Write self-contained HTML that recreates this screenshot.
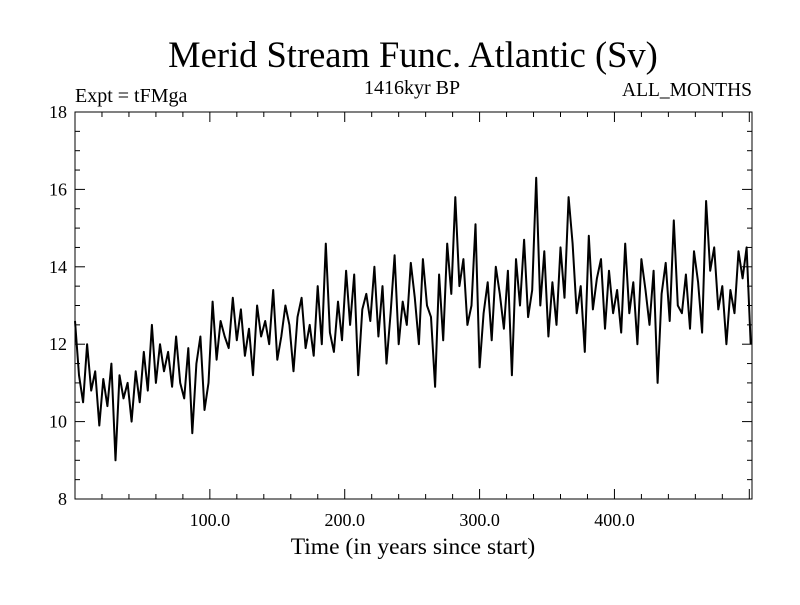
<!DOCTYPE html>
<html><head><meta charset="utf-8"><style>
body{margin:0;background:#fff}
svg text{font-family:"Liberation Serif",serif;fill:#000}
</style></head><body>
<svg id="chart" width="800" height="600" xmlns="http://www.w3.org/2000/svg">
<text x="413" y="67" font-size="36.5" text-anchor="middle">Merid Stream Func. Atlantic (Sv)</text>
<text x="75" y="102" font-size="20">Expt = tFMga</text>
<text x="412" y="94" font-size="20" text-anchor="middle">1416kyr BP</text>
<text x="752" y="96" font-size="19.5" text-anchor="end">ALL_MONTHS</text>
<text x="413" y="554" font-size="23.5" text-anchor="middle">Time (in years since start)</text>
<rect x="75" y="112" width="677" height="387" fill="none" stroke="#000" stroke-width="1"/>
<g id="ticks"></g>
<path id="series" fill="none" stroke="#000" stroke-width="2" stroke-linejoin="round"/>
</svg>
<script>
const yTickValues=[8,10,12,14,16,18];
const xTickValues=[100,200,300,400];
const xTickLabels=["100.0","200.0","300.0","400.0"];
const startYear=0, yearStep=3;
const values=[12.6,11.2,10.5,12.0,10.8,11.3,9.9,11.1,10.4,11.5,9.0,
11.2,10.6,11.0,10.0,11.3,10.5,11.8,10.8,12.5,11.0,
12.0,11.3,11.8,10.9,12.2,11.0,10.6,11.9,9.7,11.5,12.2,10.3,11.0,
13.1,11.6,12.6,12.2,11.9,13.2,12.1,12.9,11.7,12.4,11.2,13.0,12.2,12.6,12.0,13.4,11.6,
12.2,13.0,12.5,11.3,12.7,13.2,11.9,12.5,11.7,13.5,12.0,14.6,12.3,11.8,13.1,12.1,
13.9,12.5,13.8,11.2,12.9,13.3,12.6,14.0,12.2,13.5,11.5,12.8,14.3,12.0,13.1,12.5,14.1,
13.2,12.0,14.2,13.0,12.7,10.9,13.8,12.1,14.6,13.3,15.8,13.5,14.2,12.5,13.0,15.1,11.4,
12.8,13.6,12.1,14.0,13.3,12.4,13.9,11.2,14.2,13.0,14.7,12.7,13.4,16.3,13.0,14.4,12.2,
13.6,12.5,14.5,13.2,15.8,14.6,12.8,13.5,11.8,14.8,12.9,13.7,14.2,12.4,13.9,12.8,
13.4,12.3,14.6,12.8,13.6,12.0,14.2,13.4,12.5,13.9,11.0,13.3,14.1,12.6,15.2,13.0,12.8,
13.8,12.4,14.4,13.6,12.3,15.7,13.9,14.5,12.9,13.5,12.0,13.4,12.8,14.4,13.7,14.5,12.0];
const X0=75,X1=752,Y0=499,Y1=112,xMin=0,xMax=502,yMin=8,yMax=18;
const sx=v=>X0+(v-xMin)/(xMax-xMin)*(X1-X0);
const sy=v=>Y0-(v-yMin)/(yMax-yMin)*(Y0-Y1);
const NS="http://www.w3.org/2000/svg";
const g=document.getElementById('ticks');
function line(x1,y1,x2,y2,name){const l=document.createElementNS(NS,'line');
l.setAttribute('x1',x1);l.setAttribute('y1',y1);l.setAttribute('x2',x2);l.setAttribute('y2',y2);
l.setAttribute('stroke','#000');l.setAttribute('stroke-width','1');


g.appendChild(l);}
function text(x,y,s,anchor,name){const t=document.createElementNS(NS,'text');
t.setAttribute('x',x);t.setAttribute('y',y);t.setAttribute('font-size','18');t.setAttribute('text-anchor',anchor);t.textContent=s;


g.appendChild(t);}
for(let v=yMin;v<=yMax+1e-9;v+=0.5){const y=sy(v);const major=Math.abs(v-Math.round(v/2)*2)<1e-9;const L=major?10:5;
line(X0,y,X0+L,y,'y-tick');line(X1,y,X1-L,y,'y-tick-right');}
yTickValues.forEach(v=>text(67,sy(v)+6,String(v),'end','y-tick-label'));
for(let v=20;v<xMax;v+=20){const x=sx(v);const major=v%100===0;const L=major?10:5;
line(x,Y0,x,Y0-L,'x-tick');line(x,Y1,x,Y1+L,'x-tick-top');}
xTickValues.forEach((v,i)=>text(sx(v),Y0+27,xTickLabels[i],'middle','x-tick-label'));
let d='';values.forEach((v,i)=>{d+=(i?'L':'M')+sx(startYear+i*yearStep).toFixed(1)+','+sy(v).toFixed(1);});
document.getElementById('series').setAttribute('d',d);
</script>
</body></html>
